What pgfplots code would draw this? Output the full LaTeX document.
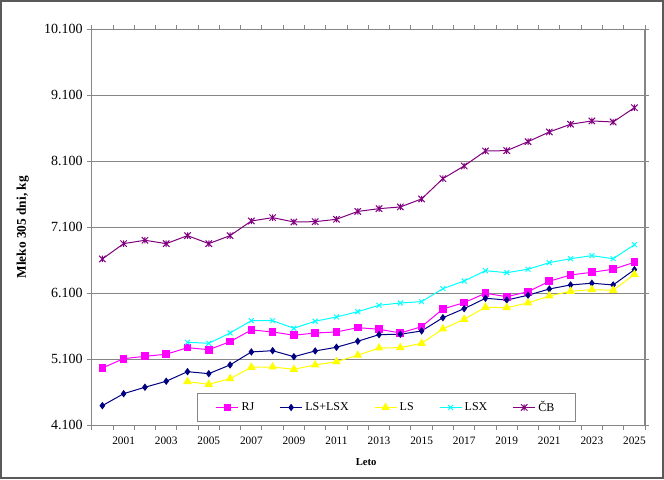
\documentclass[border=0pt]{standalone}
\usepackage{fontspec}
\setmainfont{Liberation Serif}
\usepackage{pgfplots}
\pgfplotsset{compat=1.18}
\usepackage{pgfplotstable}

\definecolor{gridgray}{RGB}{134,134,134}
\definecolor{framegray}{RGB}{90,90,90}
\definecolor{rj}{RGB}{255,0,255}
\definecolor{lslsx}{RGB}{0,0,128}
\definecolor{lsc}{RGB}{255,255,0}
\definecolor{lsxc}{RGB}{0,255,255}
\definecolor{cb}{RGB}{128,0,128}

\pgfdeclareplotmark{xstar}{%
  \pgfpathmoveto{\pgfqpoint{-\pgfplotmarksize}{-\pgfplotmarksize}}%
  \pgfpathlineto{\pgfqpoint{\pgfplotmarksize}{\pgfplotmarksize}}%
  \pgfpathmoveto{\pgfqpoint{-\pgfplotmarksize}{\pgfplotmarksize}}%
  \pgfpathlineto{\pgfqpoint{\pgfplotmarksize}{-\pgfplotmarksize}}%
  \pgfpathmoveto{\pgfqpoint{0pt}{-\pgfplotmarksize}}%
  \pgfpathlineto{\pgfqpoint{0pt}{\pgfplotmarksize}}%
  \pgfusepathqstroke}

\pgfplotstableread{
year RJ LSLSX LS LSX CB
2000 4968 4397 nan nan 6620
2001 5109 4579 nan nan 6852
2002 5145 4676 nan nan 6903
2003 5176 4767 nan nan 6852
2004 5276 4912 4761 5358 6973
2005 5245 4882 4721 5342 6852
2006 5367 5014 4806 5498 6973
2007 5544 5211 4979 5685 7195
2008 5514 5230 4983 5685 7246
2009 5464 5139 4948 5570 7180
2010 5498 5226 5014 5676 7185
2011 5514 5282 5064 5741 7221
2012 5579 5373 5161 5821 7340
2013 5555 5473 5271 5918 7382
2014 5498 5479 5276 5953 7408
2015 5594 5529 5342 5973 7529
2016 5862 5730 5559 6170 7837
2017 5958 5867 5706 6286 8029
2018 6100 6024 5888 6442 8256
2019 6048 5998 5882 6412 8261
2020 6124 6070 5953 6464 8397
2021 6282 6165 6059 6564 8544
2022 6377 6226 6130 6624 8661
2023 6418 6252 6155 6670 8711
2024 6464 6226 6145 6624 8695
2025 6570 6458 6388 6836 8912
}\datatable

\begin{document}
\begin{tikzpicture}
\useasboundingbox (0,0) rectangle (498pt,359.25pt);
\draw[framegray, line width=1.1pt] (0.8pt,0.8pt) rectangle (497.2pt,358.45pt);
\begin{axis}[
  at={(68.8pt,40.3pt)}, anchor=south west,
  scale only axis, width=415pt, height=297pt,
  xmin=1999.5, xmax=2025.5, ymin=4100, ymax=10100,
  ytick={4100,5100,...,10100},
  xtick={2001,2003,...,2025},
  minor xtick={1999.5,2000.5,...,2025.5},
  major x tick style={draw=none},
  tick align=outside,
  major tick length=3.3pt, minor tick length=3.3pt,
  tick style={gridgray, line width=0.75pt},
  scaled x ticks=false, scaled y ticks=false,
  ymajorgrids,
  major grid style={gridgray, line width=0.75pt},
  axis line style={gridgray, line width=0.9pt},
  /pgf/number format/assume math mode=true,
  yticklabel style={font=\fontsize{10.5}{12}\selectfont, /pgf/number format/1000 sep={.}},
  xticklabel style={font=\fontsize{8.5}{10}\selectfont, /pgf/number format/1000 sep={}, yshift=-2.2pt},
  every axis y label/.style={at={(axis description cs:-0.1248,0.5)}, rotate=90, anchor=center, font=\fontsize{10}{12}\selectfont\bfseries},
  every axis x label/.style={at={(axis description cs:0.496,-0.0919)}, anchor=center, font=\fontsize{8}{10}\selectfont\bfseries},
  ylabel={Mleko 305 dni, kg},
  xlabel={Leto},
  legend columns=5,
  legend style={at={(axis description cs:0.5327,0.0449)}, anchor=center, draw=gridgray, line width=0.75pt, fill=white,
    font=\fontsize{9}{10}\selectfont, inner xsep=14pt, inner ysep=3.6pt,
    /tikz/every even column/.append style={column sep=17pt}},
  legend image code/.code={\draw[mark repeat=2,mark phase=2,#1] plot coordinates {(0pt,0pt) (8.25pt,0pt) (16.5pt,0pt)};},
  every axis plot/.append style={line width=0.75pt},
]
\addplot[rj, mark=square*, mark size=2.5pt, mark options={solid, fill=rj}] table[x=year, y=RJ] {\datatable};
\addlegendentry{RJ}
\addplot[lslsx, mark=diamond*, mark size=2.2pt, mark options={solid, fill=lslsx}] table[x=year, y=LSLSX] {\datatable};
\addlegendentry{LS+LSX}
\addplot[lsc, mark=triangle*, mark size=3pt, mark options={solid, fill=lsc}] table[x=year, y=LS] {\datatable};
\addlegendentry{LS}
\addplot[lsxc, mark=x, mark size=2.6pt, mark options={solid}] table[x=year, y=LSX] {\datatable};
\addlegendentry{LSX}
\addplot[cb, mark=xstar, mark size=2.4pt, mark options={solid}] table[x=year, y=CB] {\datatable};
\addlegendentry{ČB}
\end{axis}
\end{tikzpicture}
\end{document}
